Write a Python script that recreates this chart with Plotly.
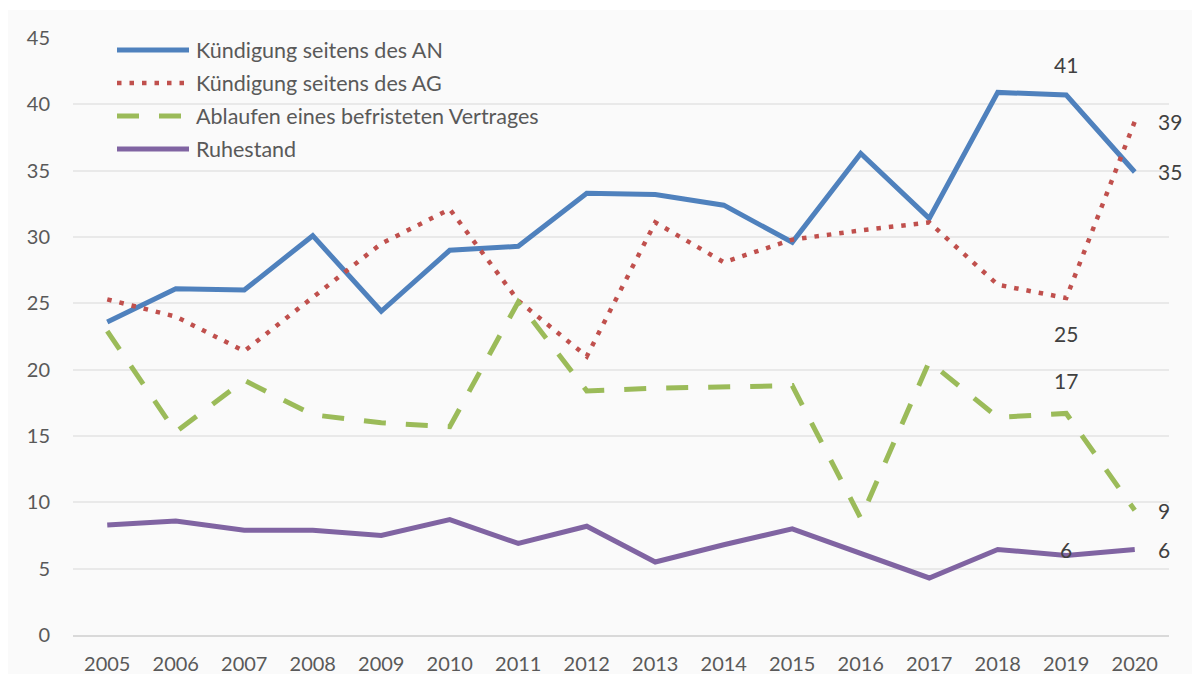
import plotly.graph_objects as go

years = list(range(2005, 2021))
an = [23.6, 26.1, 26.0, 30.1, 24.4, 29.0, 29.3, 33.3, 33.2, 32.4, 29.6, 36.3, 31.4, 40.9, 40.7, 34.9]
ag = [25.3, 24.0, 21.4, 25.4, 29.5, 32.1, 25.2, 21.0, 31.1, 28.1, 29.8, 30.5, 31.1, 26.4, 25.4, 38.7]
befristet = [22.9, 15.3, 19.2, 16.6, 16.0, 15.7, 25.1, 18.4, 18.6, 18.7, 18.8, 8.8, 20.6, 16.4, 16.7, 9.4]
ruhestand = [8.3, 8.6, 7.9, 7.9, 7.5, 8.7, 6.9, 8.2, 5.5, 6.8, 8.0, 6.2, 4.3, 6.45, 6.0, 6.45]

names = ["Kündigung seitens des AN", "Kündigung seitens des AG",
         "Ablaufen eines befristeten Vertrages", "Ruhestand"]
series = [an, ag, befristet, ruhestand]
colors = ["#4F81BD", "#C0504D", "#9BBB59", "#8064A2"]
dashes = ["solid", "4.5px,8px", "22px,20px", "solid"]
widths = [5, 4.5, 5, 5]

FONT = "Lato"
OFF = 8  # page body margin
W, H = 1200 - OFF, 674 - OFF
L, R, T, B = 65, 31, 30, 39
PW, PH = W - L - R, H - T - B


def px(x):
    return (x - OFF - L) / PW


def py(y):
    return (H - B - (y - OFF)) / PH


fig = go.Figure()
for n, s, c, d, w in zip(names, series, colors, dashes, widths):
    fig.add_trace(go.Scatter(x=years, y=s, mode="lines", name=n,
                             line=dict(color=c, width=w, dash=d),
                             showlegend=False, hoverinfo="skip"))

shapes = []
annotations = []
# thin white strip at very top (panel starts slightly below page top)
shapes.append(dict(type="rect", xref="paper", yref="paper", layer="below",
                   x0=px(0), x1=px(1210), y0=py(10), y1=py(0),
                   fillcolor="white", line=dict(width=0)))

# manual legend
rows = [50, 83, 116, 149]
for n, c, d, w, yy in zip(names, colors, dashes, widths, rows):
    shapes.append(dict(type="line", xref="paper", yref="paper",
                       x0=px(117), x1=px(189), y0=py(yy), y1=py(yy),
                       line=dict(color=c, width=w, dash=d)))
    annotations.append(dict(xref="paper", yref="paper", x=px(194), y=py(yy),
                            text=n, showarrow=False, xanchor="left", yanchor="middle",
                            font=dict(family=FONT, size=21.5, color="#595959")))

lab_font = dict(family=FONT, size=21, color="#404040")
# data labels at 2019
i19 = years.index(2019)
for s, ys in [(an, 31), (ag, -35), (befristet, 33), (ruhestand, 6)]:
    annotations.append(dict(x=2019, y=s[i19], text=f"{round(s[i19])}", showarrow=False,
                            xanchor="center", yanchor="middle", yshift=ys, font=lab_font))
# data labels at 2020
i20 = years.index(2020)
for s in series:
    annotations.append(dict(x=2020, y=s[i20], text=f"{round(s[i20])}", showarrow=False,
                            xanchor="left", yanchor="middle", xshift=21, font=lab_font))

fig.update_layout(
    width=W, height=H,
    margin=dict(l=L, r=R, t=T, b=B, pad=0),
    paper_bgcolor="#fafafa", plot_bgcolor="rgba(0,0,0,0)",
    font=dict(family=FONT, size=20, color="#595959"),
    shapes=shapes, annotations=annotations,
    showlegend=False,
)
fig.update_xaxes(range=[2004.5, 2020.5], tickmode="array", tickvals=years,
                 ticktext=[str(y) for y in years], showgrid=False, automargin=False,
                 showline=True, linecolor="#d9d9d9", linewidth=1.5,
                 ticks="", ticklabelstandoff=10, tickfont=dict(size=20, color="#595959"))
fig.update_yaxes(range=[0, 45], tickmode="linear", tick0=0, dtick=5, automargin=False,
                 showgrid=True, gridcolor="#e9e9e9", gridwidth=1.5, zeroline=False,
                 ticks="", ticklabelstandoff=22, tickfont=dict(size=20, color="#595959"))

fig.write_html("out.html")
